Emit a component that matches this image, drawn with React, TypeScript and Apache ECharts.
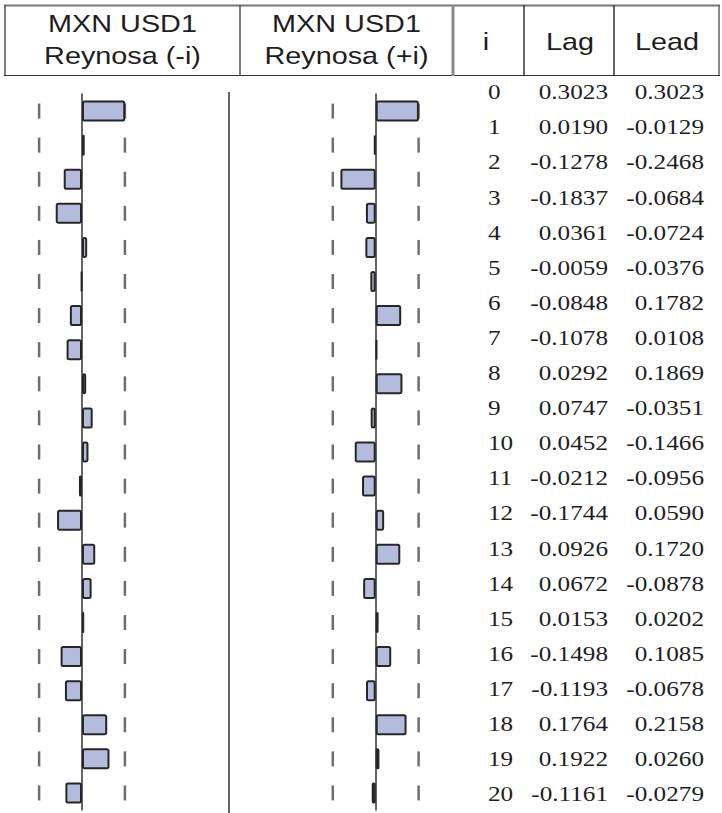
import React, { useEffect, useRef } from "react";
import * as echarts from "echarts";

const lags = ["0","1","2","3","4","5","6","7","8","9","10","11","12","13","14","15","16","17","18","19","20"];
const lagValues = [0.3023,0.0190,-0.1278,-0.1837,0.0361,-0.0059,-0.0848,-0.1078,0.0292,0.0747,0.0452,-0.0212,-0.1744,0.0926,0.0672,0.0153,-0.1498,-0.1193,0.1764,0.1922,-0.1161];
const leadValues = [0.3023,-0.0129,-0.2468,-0.0684,-0.0724,-0.0376,0.1782,0.0108,0.1869,-0.0351,-0.1466,-0.0956,0.0590,0.1720,-0.0878,0.0202,0.1085,-0.0678,0.2158,0.0260,-0.0279];
const headerLeft = ["MXN USD1", "Reynosa (-i)"];
const headerRight = ["MXN USD1", "Reynosa (+i)"];
const headerCols = ["i", "Lag", "Lead"];
const confBound = 0.3;

const fmt = (v: number) => v.toFixed(4);

export default function App() {
  const ref = useRef<HTMLDivElement>(null);
  useEffect(() => {
    if (!ref.current) return;
    const chart = echarts.init(ref.current, undefined, { renderer: "svg" });
    const serif = "21px 'Liberation Serif', 'Times New Roman', serif";
    const sans = "24px 'Liberation Sans', Arial, sans-serif";
    const txt = (text: string, x: number, y: number, align: string, font: string, sx: number) => ({
      type: "text",
      x,
      y,
      scaleX: sx,
      silent: true,
      style: {
        text,
        font,
        fill: "#1e1e1e",
        align,
        textAlign: align,
        verticalAlign: "middle",
        textVerticalAlign: "middle",
      },
    });
    const line = (x1: number, y1: number, x2: number, y2: number, stroke: string, lineWidth: number) => ({
      type: "line",
      silent: true,
      shape: { x1, y1, x2, y2 },
      style: { stroke, lineWidth },
    });
    const graphics: any[] = [
      line(4, 5.5, 720, 5.5, "#777", 2),
      line(5, 5, 5, 76, "#555", 1.5),
      line(719, 5, 719, 76, "#666", 1.5),
      line(4, 75.5, 720, 75.5, "#333", 1),
      line(240, 5, 240, 76, "#555", 1.5),
      line(453, 5, 453, 76, "#888", 3),
      line(524, 5, 524, 76, "#333", 1.5),
      line(614, 5, 614, 76, "#333", 1.5),
      line(229, 92, 229, 813, "#666", 2),
      txt(headerLeft[0], 122.5, 24, "center", sans, 1.2),
      txt(headerLeft[1], 122.5, 56, "center", sans, 1.2),
      txt(headerRight[0], 346.5, 24, "center", sans, 1.2),
      txt(headerRight[1], 346.5, 56, "center", sans, 1.2),
      txt(headerCols[0], 486, 42, "center", sans, 1.2),
      txt(headerCols[1], 570, 42, "center", sans, 1.2),
      txt(headerCols[2], 667, 42, "center", sans, 1.2),
    ];
    lags.forEach((lag, i) => {
      const y = 92 + i * 35.1;
      graphics.push(txt(lag, 488, y, "left", serif, 1.2));
      graphics.push(txt(fmt(lagValues[i]), 608, y, "right", serif, 1.2));
      graphics.push(txt(fmt(leadValues[i]), 704, y, "right", serif, 1.2));
    });

    const grids = [
      { left: 10.5, top: 94, width: 143, height: 716 },
      { left: 304.2, top: 94, width: 143, height: 716 },
    ];
    const xAxes = grids.map((_, gi) => ({
      type: "value",
      gridIndex: gi,
      min: -0.5,
      max: 0.5,
      show: false,
    }));
    const yAxes = grids.map((_, gi) => ({
      type: "category",
      gridIndex: gi,
      data: lags,
      inverse: true,
      axisLine: { show: true, onZero: true, lineStyle: { color: "#333", width: 1.5 } },
      axisTick: { show: false },
      axisLabel: { show: false },
      splitLine: { show: false },
    }));
    const dashData: any[] = [];
    lags.forEach((lag) => {
      dashData.push([-confBound, lag]);
      dashData.push([confBound, lag]);
    });
    const barSeries = (data: number[], gi: number) => ({
      type: "bar",
      xAxisIndex: gi,
      yAxisIndex: gi,
      data,
      barWidth: 21,
      z: 3,
      itemStyle: { color: "#b3bcdc", borderColor: "#262626", borderWidth: 2, borderRadius: 1.5 },
    });
    const dashSeries = (gi: number) => ({
      type: "scatter",
      xAxisIndex: gi,
      yAxisIndex: gi,
      data: dashData,
      symbol: "rect",
      symbolSize: [2.5, 15],
      z: 1,
      itemStyle: { color: "#4a4a4a" },
    });

    chart.setOption({
      animation: false,
      backgroundColor: "#fff",
      grid: grids,
      xAxis: xAxes,
      yAxis: yAxes,
      series: [dashSeries(0), dashSeries(1), barSeries(lagValues, 0), barSeries(leadValues, 1)],
      graphic: graphics,
    });
    return () => chart.dispose();
  }, []);
  return <div ref={ref} style={{ position: "fixed", left: 0, top: 0, width: 722, height: 813 }} />;
}
